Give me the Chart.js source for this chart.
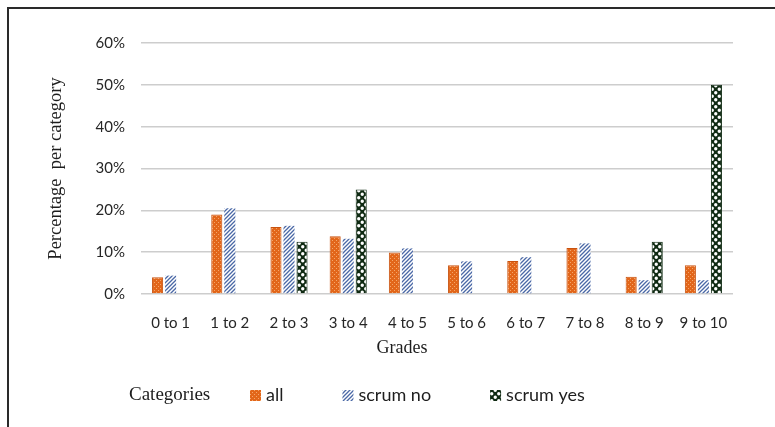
<!DOCTYPE html>
<html>
<head>
<meta charset="utf-8">
<script src="https://cdn.jsdelivr.net/npm/chart.js@4/dist/chart.umd.min.js"></script>
<style>
  html, body { margin: 0; padding: 0; background: #fff; }
  #wrap { width: 775px; height: 427px; }
</style>
</head>
<body>
<div id="wrap"><canvas id="gradesChart" width="775" height="427"></canvas></div>
<script>
const grades = ['0 to 1', '1 to 2', '2 to 3', '3 to 4', '4 to 5', '5 to 6', '6 to 7', '7 to 8', '8 to 9', '9 to 10'];
const allValues = [4, 19, 16, 13.8, 9.9, 6.9, 7.9, 11, 4.1, 6.9];
const scrumNoValues = [4.4, 20.5, 16.3, 13.2, 10.9, 7.8, 8.8, 12.1, 3.3, 3.3];
const scrumYesValues = [0, 0, 12.5, 25, 0, 0, 0, 0, 12.5, 50];
const yTicks = [0, 10, 20, 30, 40, 50, 60];

// --- fill patterns that mimic the Excel pattern fills ---
function makePattern(size, draw) {
  const c = document.createElement('canvas');
  c.width = size; c.height = size;
  const g = c.getContext('2d');
  draw(g, size);
  return g.createPattern(c, 'repeat');
}

const orangeDots = makePattern(4, function (g) {
  g.fillStyle = '#e2661a';
  g.fillRect(0, 0, 4, 4);
  g.fillStyle = '#f5a66a';
  g.fillRect(0, 0, 1, 1);
  g.fillRect(2, 2, 1, 1);
});

const blueHatch = makePattern(4, function (g) {
  g.fillStyle = '#ffffff';
  g.fillRect(0, 0, 4, 4);
  g.strokeStyle = '#4a68a6';
  g.lineWidth = 1.3;
  g.beginPath();
  g.moveTo(-1, 5); g.lineTo(5, -1);
  g.moveTo(-1, 1); g.lineTo(1, -1);
  g.moveTo(3, 5); g.lineTo(5, 3);
  g.stroke();
});

const greenChecker = makePattern(7, function (g) {
  g.fillStyle = '#0f2a12';
  g.fillRect(0, 0, 7, 7);
  g.fillStyle = '#ffffff';
  g.beginPath();
  g.arc(1.75, 1.75, 1.7, 0, Math.PI * 2);
  g.arc(5.25, 5.25, 1.7, 0, Math.PI * 2);
  g.fill();
});

// --- frame, "Grades" caption and the legend row with its "Categories" label ---
const framePlugin = {
  id: 'frame',
  afterDraw(chart) {
    const ctx = chart.ctx;
    ctx.save();
    ctx.strokeStyle = '#2a2a2a';
    ctx.lineWidth = 2;
    ctx.beginPath();
    ctx.moveTo(8, chart.height);
    ctx.lineTo(8, 8);
    ctx.lineTo(chart.width, 8);
    ctx.stroke();

    ctx.fillStyle = '#1e1e1e';
    ctx.textBaseline = 'middle';
    ctx.textAlign = 'center';
    ctx.font = '18px "Liberation Serif"';
    ctx.fillText('Grades', 402, 348);

    const legendY = 395;
    ctx.textAlign = 'left';
    ctx.font = '19px "Liberation Serif"';
    ctx.fillText('Categories', 129, legendY);

    ctx.font = '18px Lato';
    let x = 250;
    chart.data.datasets.forEach(ds => {
      ctx.fillStyle = ds.backgroundColor;
      ctx.fillRect(x, legendY - 5, 11, 11);
      ctx.fillStyle = '#1e1e1e';
      ctx.fillText(ds.label, x + 16, legendY);
      x += 16 + ctx.measureText(ds.label).width + 59;
    });
    ctx.restore();
  }
};

const ctx = document.getElementById('gradesChart').getContext('2d');
new Chart(ctx, {
  type: 'bar',
  data: {
    labels: grades,
    datasets: [
      {
        label: 'all',
        data: allValues,
        backgroundColor: orangeDots,
        borderColor: '#c8520f',
        borderWidth: 1
      },
      {
        label: 'scrum no',
        data: scrumNoValues,
        backgroundColor: blueHatch,
        borderWidth: 0
      },
      {
        label: 'scrum yes',
        data: scrumYesValues,
        backgroundColor: greenChecker,
        borderColor: '#0f2a12',
        borderWidth: 1
      }
    ]
  },
  options: {
    responsive: false,
    animation: false,
    categoryPercentage: 0.66,
    barPercentage: 0.85,
    layout: { padding: { top: 43, left: 45, right: 42, bottom: 68 } },
    plugins: {
      tooltip: { enabled: false },
      legend: { display: false }
    },
    scales: {
      x: {
        afterFit(scale) { scale.height = 65; },
        grid: { display: false, drawTicks: false },
        border: { display: false },
        ticks: {
          color: '#262626',
          padding: 20,
          font: { family: 'Lato', size: 15 },
          maxRotation: 0
        }
      },
      y: {
        min: 0,
        max: 60,
        afterBuildTicks(scale) {
          scale.ticks = yTicks.map(v => ({ value: v }));
        },
        afterFit(scale) { scale.width = 96; },
        grid: { color: '#cdcdcd', lineWidth: 1.5, drawTicks: false },
        border: { display: false },
        ticks: {
          color: '#262626',
          padding: 16,
          font: { family: 'Lato', size: 15 },
          callback: v => v + '%'
        },
        title: {
          display: true,
          text: 'Percentage  per category',
          color: '#1e1e1e',
          padding: { top: 0, bottom: 0 },
          font: { family: 'Liberation Serif', size: 18.5 }
        }
      }
    }
  },
  plugins: [framePlugin]
});
</script>
</body>
</html>
